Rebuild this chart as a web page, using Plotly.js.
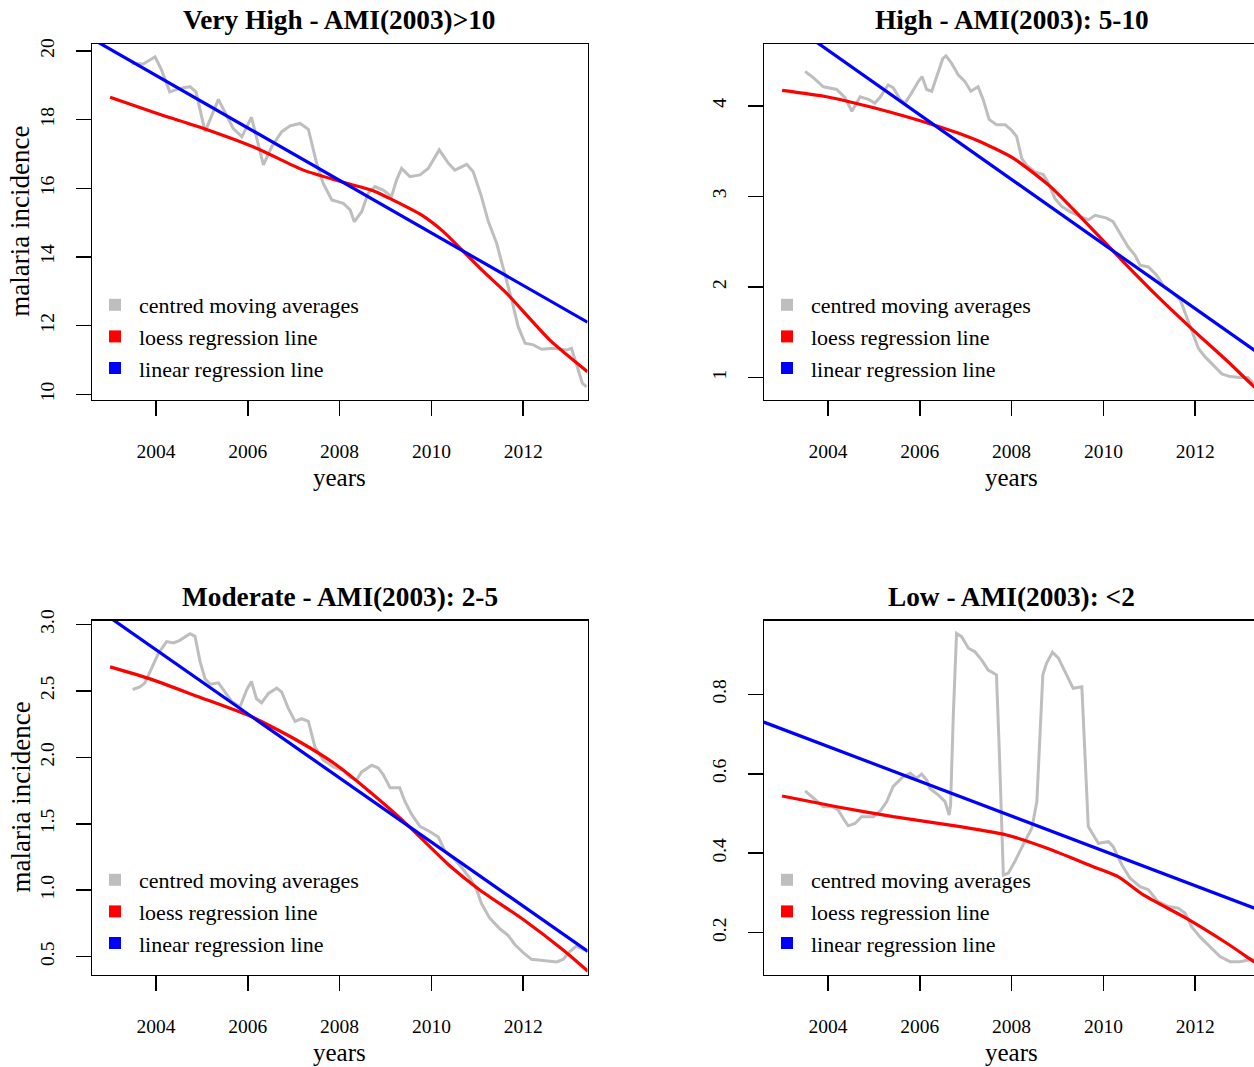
<!DOCTYPE html>
<html><head><meta charset="utf-8">
<script src="https://cdn.plot.ly/plotly-3.0.1.min.js"></script>
<style>html,body{margin:0;padding:0;overflow:hidden;background:#fff}#chart{width:1300px;height:1067px}</style>
</head><body><div id="chart"></div>
<script>
// ---------- data ----------
const panelTitles = ["Very High - AMI(2003)>10", "High - AMI(2003): 5-10", "Moderate - AMI(2003): 2-5", "Low - AMI(2003): <2"];
const seriesNames = ["centred moving averages", "loess regression line", "linear regression line"];
const xTickVals = [2004, 2006, 2008, 2010, 2012];

// Very High
const cmaYearsVH = [2003.47,2003.72,2003.98,2004.12,2004.30,2004.52,2004.74,2004.87,2005.07,2005.36,2005.68,2005.87,2006.08,2006.34,2006.52,2006.74,2006.92,2007.14,2007.32,2007.50,2007.64,2007.83,2008.08,2008.23,2008.32,2008.48,2008.62,2008.77,2008.95,2009.13,2009.24,2009.35,2009.53,2009.75,2009.93,2010.17,2010.37,2010.51,2010.77,2010.91,2011.09,2011.24,2011.42,2011.60,2011.75,2011.89,2012.04,2012.22,2012.40,2012.65,2012.95,2013.05,2013.20,2013.29,2013.38];
const cmaVH = [19.64,19.62,19.83,19.45,18.81,18.91,18.96,18.81,17.65,18.59,17.75,17.50,18.07,16.68,17.21,17.65,17.82,17.89,17.72,16.73,16.15,15.66,15.56,15.37,15.03,15.32,15.85,16.05,15.95,15.76,16.24,16.58,16.34,16.39,16.58,17.12,16.73,16.53,16.70,16.48,15.76,15.03,14.40,13.52,12.75,11.97,11.49,11.44,11.31,11.34,11.29,11.34,10.71,10.32,10.22];
const loessYearsVH = [2003.00,2004.01,2004.96,2006.19,2007.21,2008.15,2008.73,2009.31,2009.79,2010.26,2010.77,2011.13,2011.64,2012.58,2013.40];
const loessVH = [18.65,18.19,17.78,17.17,16.53,16.15,15.93,15.56,15.22,14.74,14.06,13.58,12.94,11.58,10.66];
const linYearsVH = [2002.6, 2013.4];
const linVH = [20.36, 12.10];
const yTicksVH = [10, 12, 14, 16, 18, 20];

// High
const cmaYearsH = [2003.50,2003.68,2003.90,2004.19,2004.37,2004.52,2004.70,2004.88,2005.02,2005.13,2005.31,2005.42,2005.57,2005.68,2005.82,2005.97,2006.05,2006.15,2006.26,2006.38,2006.50,2006.57,2006.69,2006.84,2006.98,2007.11,2007.27,2007.38,2007.51,2007.67,2007.86,2008.00,2008.11,2008.22,2008.33,2008.51,2008.69,2008.80,2008.94,2009.09,2009.27,2009.49,2009.67,2009.82,2010.07,2010.21,2010.36,2010.54,2010.69,2010.80,2010.98,2011.16,2011.30,2011.52,2011.68,2011.81,2011.96,2012.07,2012.21,2012.39,2012.58,2012.76,2012.97,2013.15,2013.28,2013.38];
const cmaH = [4.38,4.31,4.21,4.18,4.09,3.94,4.10,4.07,4.03,4.09,4.23,4.20,4.07,4.03,4.14,4.27,4.32,4.18,4.16,4.34,4.52,4.55,4.47,4.34,4.27,4.16,4.21,4.07,3.85,3.79,3.79,3.73,3.66,3.42,3.34,3.27,3.24,3.15,2.98,2.89,2.83,2.78,2.74,2.79,2.76,2.72,2.59,2.44,2.35,2.24,2.22,2.13,2.02,1.93,1.85,1.67,1.48,1.32,1.23,1.14,1.04,1.01,1.00,1.00,0.93,0.90];
const loessYearsH = [2003.00,2003.97,2005.06,2006.29,2007.24,2008.04,2008.84,2009.49,2010.43,2011.23,2011.96,2012.68,2013.28,2013.40];
const loessH = [4.17,4.10,3.97,3.79,3.62,3.42,3.11,2.78,2.28,1.87,1.52,1.19,0.90,0.85];
const linYearsH = [2003.0, 2013.4];
const linH = [4.97, 1.26];
const yTicksH = [1, 2, 3, 4];

// Moderate
const cmaYearsM = [2003.49,2003.65,2003.76,2003.91,2004.05,2004.23,2004.38,2004.52,2004.74,2004.85,2004.96,2005.07,2005.18,2005.36,2005.50,2005.65,2005.83,2005.98,2006.08,2006.19,2006.30,2006.45,2006.63,2006.74,2006.88,2007.03,2007.17,2007.32,2007.46,2007.64,2007.86,2008.08,2008.23,2008.37,2008.48,2008.70,2008.84,2008.95,2009.10,2009.31,2009.42,2009.57,2009.75,2009.97,2010.15,2010.30,2010.48,2010.66,2010.84,2010.99,2011.09,2011.27,2011.49,2011.67,2011.82,2012.00,2012.18,2012.44,2012.73,2012.87,2013.02,2013.16,2013.34];
const cmaM = [2.51,2.53,2.56,2.67,2.78,2.87,2.86,2.88,2.93,2.91,2.72,2.59,2.55,2.56,2.49,2.42,2.38,2.51,2.57,2.44,2.41,2.48,2.52,2.49,2.37,2.27,2.29,2.27,2.08,1.98,1.93,1.90,1.85,1.83,1.89,1.94,1.92,1.87,1.77,1.77,1.67,1.57,1.48,1.44,1.40,1.29,1.24,1.17,1.09,1.00,0.90,0.79,0.71,0.66,0.59,0.53,0.48,0.47,0.46,0.48,0.54,0.58,0.55];
const loessYearsM = [2003.00,2003.87,2004.89,2006.05,2007.06,2007.94,2008.52,2009.39,2010.41,2011.06,2012.00,2012.87,2013.41];
const loessM = [2.68,2.59,2.46,2.31,2.13,1.94,1.78,1.52,1.18,1.00,0.78,0.55,0.39];
const linYearsM = [2003.0, 2013.41];
const linM = [3.05, 0.54];
const yTicksM = [0.5, 1.0, 1.5, 2.0, 2.5, 3.0];

// Low
const cmaYearsL = [2003.50,2003.68,2003.90,2004.08,2004.22,2004.33,2004.44,2004.59,2004.73,2004.99,2005.13,2005.28,2005.42,2005.64,2005.79,2005.93,2006.04,2006.15,2006.22,2006.40,2006.55,2006.64,2006.67,2006.73,2006.80,2006.91,2007.06,2007.20,2007.35,2007.49,2007.67,2007.73,2007.82,2007.93,2008.07,2008.25,2008.44,2008.55,2008.62,2008.68,2008.76,2008.89,2009.02,2009.16,2009.34,2009.53,2009.60,2009.67,2009.78,2009.89,2010.11,2010.21,2010.40,2010.58,2010.80,2010.98,2011.19,2011.41,2011.63,2011.78,2011.92,2012.10,2012.32,2012.54,2012.76,2012.97,2013.19,2013.38];
const cmaL = [0.557,0.538,0.517,0.517,0.509,0.488,0.469,0.475,0.492,0.492,0.505,0.530,0.568,0.593,0.601,0.589,0.599,0.584,0.563,0.547,0.530,0.496,0.521,0.748,0.953,0.945,0.916,0.907,0.886,0.861,0.849,0.664,0.345,0.350,0.379,0.421,0.463,0.530,0.706,0.849,0.878,0.906,0.891,0.857,0.815,0.819,0.647,0.467,0.446,0.425,0.429,0.417,0.371,0.337,0.316,0.308,0.278,0.266,0.262,0.249,0.215,0.190,0.165,0.140,0.127,0.127,0.132,0.132];
const loessYearsL = [2003.00,2004.19,2005.42,2006.88,2007.89,2008.76,2009.78,2010.32,2010.87,2011.81,2012.68,2013.28,2013.40];
const loessL = [0.544,0.517,0.492,0.467,0.446,0.413,0.366,0.341,0.295,0.236,0.174,0.127,0.118];
const linYearsL = [2002.6, 2013.4];
const linL = [0.730, 0.257];
const yTicksL = [0.2, 0.4, 0.6, 0.8];

// ---------- layout geometry ----------
const W = 1300, H = 1067;
const FONT = "Liberation Serif, Times New Roman, serif";
const colors = ["#BEBEBE", "#FF0000", "#0000FF"];
const boxes = [
  {l: 92, r: 587.5, t: 44, b: 399.5},
  {l: 764, r: 1259.5, t: 44, b: 399.5},
  {l: 92, r: 587.5, t: 620.5, b: 974.5},
  {l: 764, r: 1259.5, t: 620.5, b: 974.5}
];
const xRange = [2002.606, 2013.40];
const yRanges = [[9.849, 20.204], [0.757, 4.682], [0.366, 3.029], [0.0948, 0.9857]];
const yTicks = [yTicksVH, yTicksH, yTicksM, yTicksL];
const yFormats = ["d", "d", ".1f", ".1f"];
const panels = [
  [cmaYearsVH, cmaVH, loessYearsVH, loessVH, linYearsVH, linVH],
  [cmaYearsH, cmaH, loessYearsH, loessH, linYearsH, linH],
  [cmaYearsM, cmaM, loessYearsM, loessM, linYearsM, linM],
  [cmaYearsL, cmaL, loessYearsL, loessL, linYearsL, linL]
];
const fx = v => v / W, fy = v => 1 - v / H;

const traces = [];
const layout = {
  width: W, height: H, margin: {l: 0, r: 0, t: 0, b: 0},
  paper_bgcolor: "#fff", plot_bgcolor: "#fff",
  font: {family: FONT, color: "#000"},
  showlegend: true, annotations: []
};

panels.forEach((p, i) => {
  const n = i === 0 ? "" : String(i + 1);
  const xa = "x" + n, ya = "y" + n;
  const lg = "legend" + n;
  const b = boxes[i];
  traces.push({x: p[0], y: p[1], xaxis: xa, yaxis: ya, mode: "lines", line: {color: colors[0], width: 3}, showlegend: false, hoverinfo: "skip"});
  traces.push({x: p[2], y: p[3], xaxis: xa, yaxis: ya, mode: "lines", line: {color: colors[1], width: 3.2, shape: "spline", smoothing: 0.6}, showlegend: false, hoverinfo: "skip"});
  traces.push({x: p[4], y: p[5], xaxis: xa, yaxis: ya, mode: "lines", line: {color: colors[2], width: 3.2}, showlegend: false, hoverinfo: "skip"});
  seriesNames.forEach((nm, k) => {
    traces.push({x: [null], y: [null], xaxis: xa, yaxis: ya, mode: "markers", name: nm, legend: lg,
      marker: {symbol: "square", size: 12, color: colors[k]}, showlegend: true});
  });
  layout["xaxis" + n] = {
    domain: [fx(b.l), fx(b.r)], range: xRange, anchor: ya,
    tickvals: xTickVals, ticks: "outside", ticklen: 15, tickwidth: 1.5, tickcolor: "#000",
    showline: true, mirror: true, linecolor: "#000", linewidth: 1.5,
    showgrid: false, zeroline: false, ticklabelstandoff: 19,
    tickfont: {family: FONT, size: 19.5, color: "#000"}
  };
  layout["yaxis" + n] = {
    domain: [fy(b.b), fy(b.t)], range: yRanges[i], anchor: xa,
    tickvals: yTicks[i], tickformat: yFormats[i], tickangle: -90,
    ticks: "outside", ticklen: 15, tickwidth: 1.5, tickcolor: "#000",
    showline: true, mirror: true, linecolor: "#000", linewidth: 1.5,
    showgrid: false, zeroline: false, ticklabelstandoff: 14,
    tickfont: {family: FONT, size: 19.5, color: "#000"}
  };
  layout[lg] = {
    x: fx(b.l - 1), y: fy(b.b - 115.5), xanchor: "left", yanchor: "top",
    bgcolor: "rgba(0,0,0,0)", borderwidth: 0, itemwidth: 38,
    font: {family: FONT, size: 22, color: "#000"}
  };
  const cx = (b.l + b.r) / 2;
  layout.annotations.push({text: "<b>" + panelTitles[i] + "</b>", xref: "paper", yref: "paper",
    x: fx(cx), y: fy(b.t - 24), xanchor: "center", yanchor: "middle", showarrow: false,
    font: {family: FONT, size: 27.3, color: "#000"}});
  layout.annotations.push({text: "years", xref: "paper", yref: "paper",
    x: fx(cx), y: fy(b.b + 78), xanchor: "center", yanchor: "middle", showarrow: false,
    font: {family: FONT, size: 25, color: "#000"}});
  if (i % 2 === 0) {
    layout.annotations.push({text: "malaria incidence", xref: "paper", yref: "paper", textangle: -90,
      x: fx(20), y: fy((b.t + b.b) / 2), xanchor: "center", yanchor: "middle", showarrow: false,
      font: {family: FONT, size: 27, color: "#000"}});
  }
});

Plotly.newPlot("chart", traces, layout, {staticPlot: true, displayModeBar: false});
</script></body></html>
